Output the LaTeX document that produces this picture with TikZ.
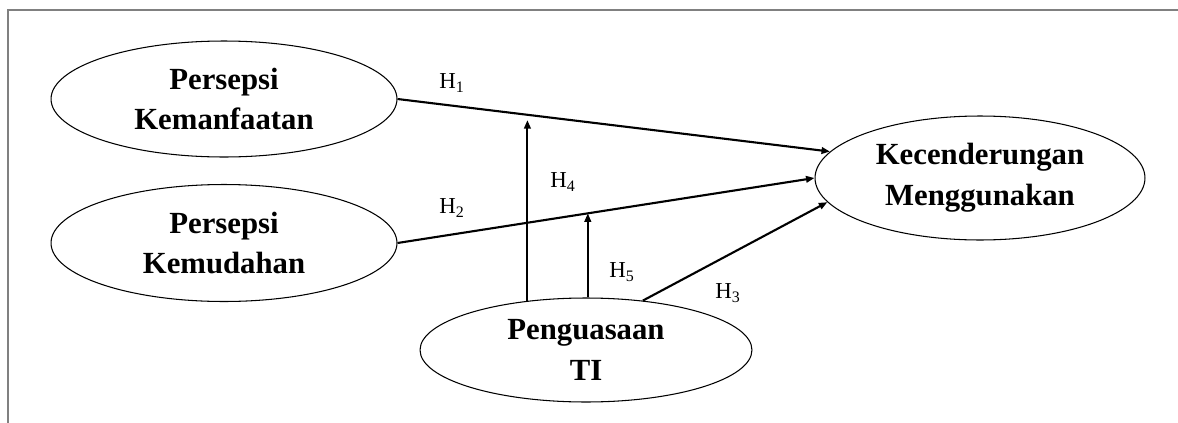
\documentclass[tikz,border=0pt]{standalone}
\usepackage{fontspec}
\setmainfont{Liberation Serif}
\usetikzlibrary{shapes.geometric,arrows.meta,calc}
\definecolor{framegray}{RGB}{128,128,128}
\tikzset{
  construct/.style={draw=black, line width=0.6pt, ellipse, inner sep=0pt, align=center,
    font=\bfseries\fontsize{17.5}{23.3}\selectfont},
  path/.style={draw=black, line width=1.2pt, -{Triangle[length=0.17cm,width=0.13cm]}},
  hyp/.style={font=\fontsize{13}{15}\selectfont, inner sep=0pt}
}
\begin{document}
\begin{tikzpicture}[x=0.02cm, y=-0.02cm]
\useasboundingbox (0,0) rectangle (1178,423);
\draw[framegray, line width=0.9pt] (8,423) -- (8,10) -- (1178,10);

\node[construct, minimum width=6.92cm, minimum height=2.32cm] (e1) at (224,99) {Persepsi\\Kemanfaatan};
\node[construct, minimum width=6.92cm, minimum height=2.34cm] (e2) at (224,243) {Persepsi\\Kemudahan};
\node[construct, minimum width=6.64cm, minimum height=2.08cm] (e3) at (586,350) {Penguasaan\\TI};
\node[construct, minimum width=6.60cm, minimum height=2.48cm] (e4) at (980,178) {Kecenderungan\\Menggunakan};

\draw[path] (e1.east) -- (e4.170.4);
\draw[path] (e2.east) -- (e4.west);
\draw[path] (e3.41.6) -- (e4.189.3);

\coordinate (h4t) at ($(e1.east)!0.305!(e4.170.4)$);
\coordinate (h5t) at ($(e2.east)!0.457!(e4.west)$);
\draw[path, shorten >=0.1cm] (e3.140) -- (e3.140 |- h4t);
\draw[path] (e3.88) -- (e3.88 |- h5t);

\node[hyp] (l1) at (452,83) {H\textsubscript{1}};
\node[hyp] (l2) at (452,208) {H\textsubscript{2}};
\node[hyp] (l4) at (563,182) {H\textsubscript{4}};
\node[hyp] (l5) at (622,272) {H\textsubscript{5}};
\node[hyp] (l3) at (728,293) {H\textsubscript{3}};
\end{tikzpicture}
\end{document}
